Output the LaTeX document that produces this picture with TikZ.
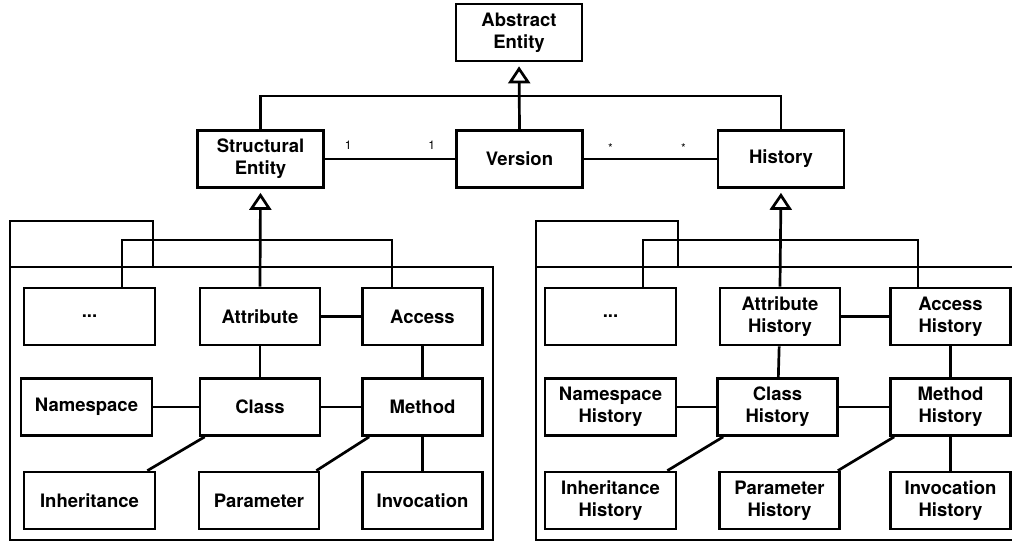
\documentclass[tikz,border=0pt]{standalone}
\usepackage{fontspec}
\setsansfont{TeX Gyre Heros}
\usetikzlibrary{arrows.meta}

\begin{document}
\begin{tikzpicture}[x=1pt,y=-1pt,line width=2.7pt,
		every node/.style={rectangle,draw,line width=2.7pt,minimum width=120pt,minimum height=57pt,
			inner sep=0pt,align=center,font=\sffamily\bfseries\fontsize{18.5}{21.7}\selectfont},
		top/.style={minimum width=126pt},
		wide/.style={minimum width=131pt},
		gen/.style={-{Triangle[open,length=17pt,width=22pt]},shorten >=4pt}]
				\useasboundingbox (0,0) rectangle (1012,542);
				\clip (0,0) rectangle (1012,542);

				\draw (10,221) rectangle (153,267);
				\draw (10,267) rectangle (493,540);
				\draw (536,221) rectangle (678,267);
				\draw (536,267) rectangle (1019,540);

				\node[top] (Abs) at (519,32.5) {Abstract\\Entity};
				\node[top] (Struct) at (260.5,159) {Structural\\Entity};
				\node[top] (Ver) at (519.5,159) {Version};
				\node[top] (Hist) at (781,159) {History};

				\node[wide] (Dots) at (89.5,316.5) {...};
				\node (Attr) at (260,316.5) {Attribute};
				\node (Acc) at (422.5,316.5) {Access};
				\node[wide] (Ns) at (86.5,407) {Namespace};
				\node (Cls) at (260,407) {Class};
				\node (Meth) at (422.5,407) {Method};
				\node[wide] (Inh) at (89.5,500.5) {Inheritance};
				\node (Par) at (259,500.5) {Parameter};
				\node (Inv) at (422.5,500.5) {Invocation};

				\node[wide] (DotsH) at (610.5,316.5) {...};
				\node (AttrH) at (780,316.5) {Attribute\\History};
				\node (AccH) at (950.5,316.5) {Access\\History};
				\node[wide] (NsH) at (610.5,407) {Namespace\\History};
				\node (ClsH) at (777.5,407) {Class\\History};
				\node (MethH) at (950.5,407) {Method\\History};
				\node[wide] (InhH) at (610.5,500.5) {Inheritance\\History};
				\node (ParH) at (779.5,500.5) {Parameter\\History};
				\node (InvH) at (950.5,500.5) {Invocation\\History};

				\coordinate (TopBus) at (519,96);
				\coordinate (LeftBus) at (260,240);
				\coordinate (RightBus) at (779,240);

				\draw[gen] (Ver.north) -- (Abs.south);
				\draw (Struct.north) |- (TopBus) -| (Hist.north);
				\draw[gen] (Attr.north) -- (Struct.south);
				\draw ([xshift=32.5pt]Dots.north) |- (LeftBus) -| ([xshift=-30.5pt]Acc.north);
				\draw[gen] (AttrH.north) -- (Hist.south);
				\draw ([xshift=32.5pt]DotsH.north) |- (RightBus) -| ([xshift=-32.5pt]AccH.north);

				\begin{scope}[every node/.style={font=\sffamily\fontsize{12}{14}\selectfont,inner sep=0pt,anchor=base},
					          every edge/.style={draw,line width=2.7pt}]
					\path [-] (Struct) edge node[pos=0.18,yshift=9.5pt] {1} node[pos=0.82,yshift=9.5pt] {1} (Ver);
					\path [-] (Ver) edge node[pos=0.2,yshift=6.5pt] {*} node[pos=0.75,yshift=6.5pt] {*} (Hist);

					\path [-] (Attr) edge (Acc);
					\path [-] (Attr) edge (Cls);
					\path [-] (Acc) edge (Meth);
					\path [-] (Ns) edge (Cls);
					\path [-] (Cls) edge (Meth);
					\path [-] (Meth) edge (Inv);
					\path [-] ([xshift=6pt]Cls.south west) edge ([xshift=-9pt]Inh.north east);
					\path [-] ([xshift=8pt]Meth.south west) edge ([xshift=-4pt]Par.north east);

					\path [-] (AttrH) edge (AccH);
					\path [-] (AttrH) edge (ClsH);
					\path [-] (AccH) edge (MethH);
					\path [-] (NsH) edge (ClsH);
					\path [-] (ClsH) edge (MethH);
					\path [-] (MethH) edge (InvH);
					\path [-] ([xshift=7pt]ClsH.south west) edge ([xshift=-10pt]InhH.north east);
					\path [-] ([xshift=5pt]MethH.south west) edge ([xshift=-3pt]ParH.north east);
				\end{scope}
			\end{tikzpicture}
\end{document}
